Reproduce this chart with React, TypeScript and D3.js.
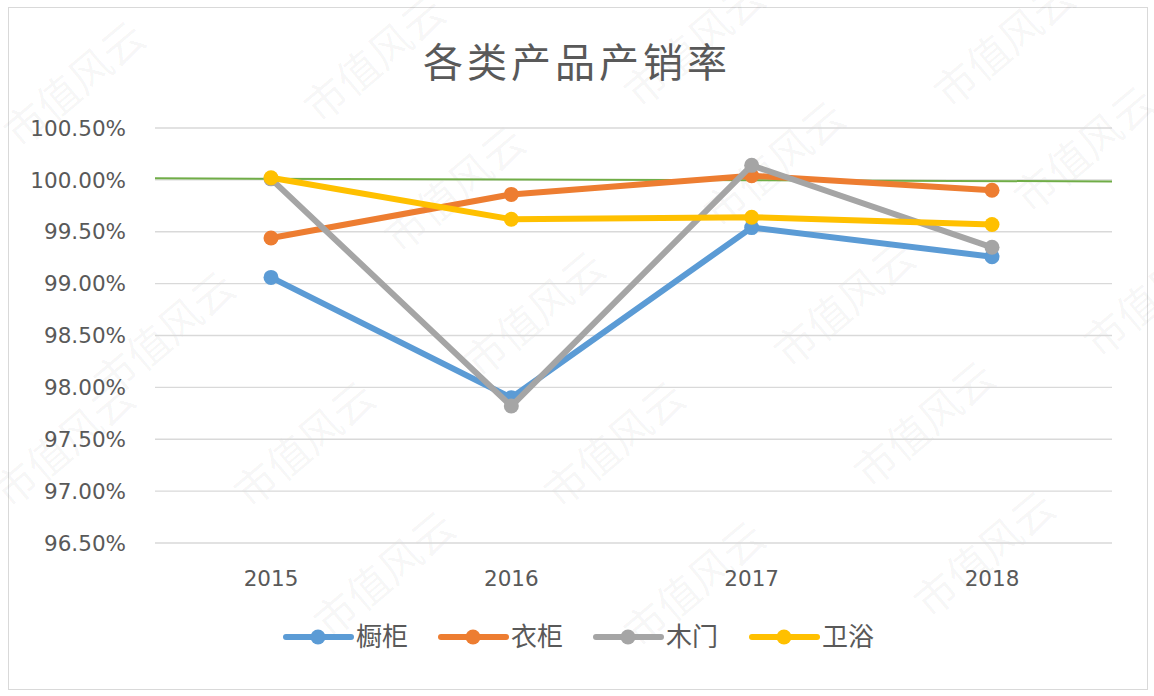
import React from "react";
import * as d3 from "d3";

const years = ["2015", "2016", "2017", "2018"];
const seriesNames = ["橱柜", "衣柜", "木门", "卫浴"];
const chugui = [99.06, 97.9, 99.54, 99.26];
const yigui = [99.44, 99.86, 100.04, 99.9];
const mumen = [100.01, 97.82, 100.14, 99.35];
const weiyu = [100.02, 99.62, 99.64, 99.57];
const yTicks = [96.5, 97.0, 97.5, 98.0, 98.5, 99.0, 99.5, 100.0, 100.5];
const refLine = [100.015, 99.985];
const colors = ["#5B9BD5", "#ED7D31", "#A5A5A5", "#FFC000"];

const W = 1154;
const H = 696;
const cjk = "'Noto Sans CJK SC', 'Noto Sans', sans-serif";
const num = "'DejaVu Sans', 'Open Sans', sans-serif";

const wmPos: [number, number][] = [
  [20, 150], [320, 125], [640, 110], [950, 110],
  [400, 255], [720, 230], [1030, 215],
  [110, 400], [480, 380], [790, 370], [1100, 360],
  [10, 510], [250, 510], [560, 510], [870, 490],
  [330, 640], [640, 650], [930, 620],
];

export default function App() {
  const data = [chugui, yigui, mumen, weiyu];
  const x = d3.scalePoint<string>().domain(years).range([271, 992]);
  const y = d3.scaleLinear().domain([96.5, 100.5]).range([543, 128]);
  const plotL = 155;
  const plotR = 1112;
  const line = d3
    .line<number>()
    .x((_, i) => x(years[i]) as number)
    .y((d) => y(d));
  const refScale = d3.scaleLinear().domain([0, 1]).range([plotL, plotR]);

  const legendX = [286, 441, 596, 752];

  return (
    <svg width={W} height={H} style={{ position: "absolute", left: 0, top: 0, background: "#fff" }}>
      <rect x={0} y={0} width={W} height={H} fill="#fff" />
      <rect x={8.5} y={7.5} width={1139} height={682} fill="none" stroke="#d9d9d9" strokeWidth={1} />
      {wmPos.map((m, i) => (
        <text
          key={i}
          x={m[0]}
          y={m[1]}
          transform={`rotate(-40 ${m[0]} ${m[1]})`}
          fontFamily={cjk}
          fontSize={42}
          fill="#000"
          fillOpacity={0.045}
        >
          市值风云
        </text>
      ))}
      <text x={577} y={77} textAnchor="middle" fontFamily={cjk} fontSize={40} fill="#595959" letterSpacing={4}>
        各类产品产销率
      </text>
      {yTicks.map((t) => (
        <g key={t}>
          <line x1={plotL} x2={plotR} y1={y(t)} y2={y(t)} stroke="#d9d9d9" strokeWidth={1.3} />
          <text x={126} y={y(t)} dy="0.36em" textAnchor="end" fontFamily={num} fontSize={21.5} fill="#595959">
            {t.toFixed(2) + "%"}
          </text>
        </g>
      ))}
      {years.map((yr) => (
        <text key={yr} x={x(yr)} y={578} dy="0.36em" textAnchor="middle" fontFamily={num} fontSize={21.5} fill="#595959">
          {yr}
        </text>
      ))}
      <line
        x1={refScale(0)}
        x2={refScale(1)}
        y1={y(refLine[0])}
        y2={y(refLine[1])}
        stroke="#70AD47"
        strokeWidth={2}
      />
      {data.map((s, si) => (
        <g key={si}>
          <path d={line(s) || ""} fill="none" stroke={colors[si]} strokeWidth={6} strokeLinejoin="round" strokeLinecap="round" />
          {s.map((v, i) => (
            <circle key={i} cx={x(years[i])} cy={y(v)} r={7.5} fill={colors[si]} />
          ))}
        </g>
      ))}
      {seriesNames.map((n, i) => (
        <g key={n}>
          <line x1={legendX[i]} x2={legendX[i] + 65} y1={637} y2={637} stroke={colors[i]} strokeWidth={6} strokeLinecap="round" />
          <circle cx={legendX[i] + 32} cy={637} r={7.5} fill={colors[i]} />
          <text x={legendX[i] + 70} y={637} dy="0.36em" fontFamily={cjk} fontSize={26} fill="#595959">
            {n}
          </text>
        </g>
      ))}
    </svg>
  );
}
